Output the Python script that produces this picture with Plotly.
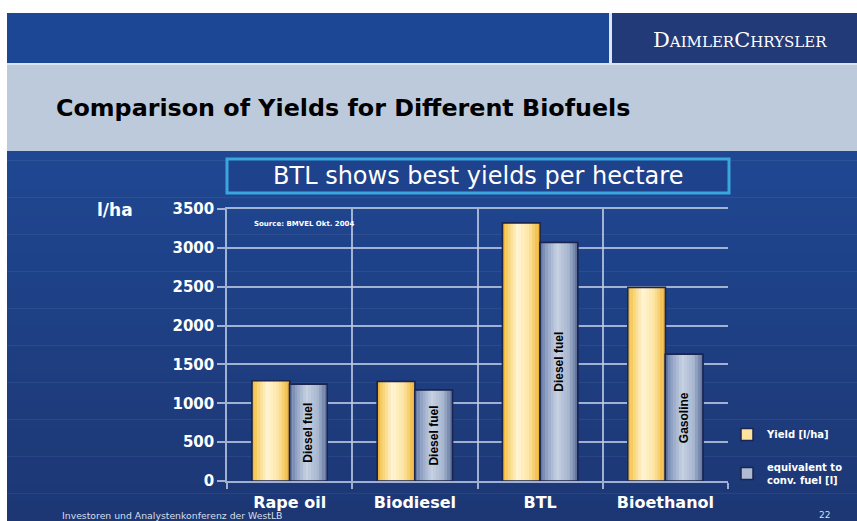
import plotly.graph_objects as go

W, H = 857, 521

categories = ["Rape oil", "Biodiesel", "BTL", "Bioethanol"]
yield_lha = [1290, 1280, 3320, 2490]
equiv_fuel = [1245, 1170, 3070, 1630]
equiv_labels = ["Diesel fuel", "Diesel fuel", "Diesel fuel", "Gasoline"]
y_ticks = [0, 500, 1000, 1500, 2000, 2500, 3000, 3500]

SANS = "DejaVu Sans, Verdana, sans-serif"

def px(x):
    return x / W

def py(y):
    return 1 - y / H

def hex2rgb(h):
    h = h.lstrip("#")
    return tuple(int(h[i:i + 2], 16) for i in (0, 2, 4))

def grad(stops, t):
    for (t0, c0), (t1, c1) in zip(stops, stops[1:]):
        if t0 <= t <= t1:
            f = (t - t0) / (t1 - t0) if t1 > t0 else 0
            a, b = hex2rgb(c0), hex2rgb(c1)
            return "rgb(%d,%d,%d)" % tuple(round(a[i] + (b[i] - a[i]) * f) for i in range(3))
    return stops[-1][1]

yellow_stops = [(0, "#f0b630"), (0.12, "#f7cd62"), (0.4, "#fff5d8"), (0.7, "#fde5a4"), (1.0, "#eeb02c")]
blue_stops = [(0, "#586d9a"), (0.15, "#8a9cc0"), (0.45, "#c8d2e3"), (0.75, "#a8b6cf"), (1.0, "#576c99")]

BW = 0.3
NSTRIP = 14
fig = go.Figure()

def add_series(values, offset, stops, name, mid, texts=None):
    fig.add_trace(go.Bar(x=categories, y=values, offset=offset, width=BW, name=name,
                         marker=dict(color=mid, line=dict(color="#1b2550", width=1.5)),
                         showlegend=True, legendgroup=name, hoverinfo="skip"))
    for i in range(NSTRIP):
        t = (i + 0.5) / NSTRIP
        fig.add_trace(go.Bar(x=categories, y=values, offset=offset + i * BW / NSTRIP,
                             width=BW / NSTRIP * 1.02, marker=dict(color=grad(stops, t), line=dict(width=0)),
                             showlegend=False, legendgroup=name, hoverinfo="skip"))
    fig.add_trace(go.Bar(x=categories, y=values, offset=offset, width=BW,
                         marker=dict(color="rgba(0,0,0,0)", line=dict(color="#1b2550", width=1.5)),
                         text=texts, textposition="inside" if texts else None, insidetextanchor="middle",
                         textangle=-90,
                         textfont=dict(family="Liberation Sans Narrow, Arial Narrow, Arial", size=12,
                                       color="black", weight="bold"),
                         showlegend=False, legendgroup=name, hoverinfo="skip"))

add_series(yield_lha, -BW, yellow_stops, "Yield [l/ha]", "#fde3a0")
add_series(equiv_fuel, 0.0, blue_stops, "equivalent to<br>conv. fuel [l]", "#aebbd3", equiv_labels)

shapes = []
def rect(x0, y0, x1, y1, fill, line=None, lw=0):
    shapes.append(dict(type="rect", xref="paper", yref="paper", x0=px(x0), x1=px(x1), y0=py(y1), y1=py(y0),
                       fillcolor=fill, line=dict(color=line or fill, width=lw), layer="below"))

# header band
rect(7, 13, 857, 63, "#1b4794")
rect(612, 13, 857, 63, "#223a77")
rect(609, 13, 612, 63, "#dfe6f0")
rect(7, 63, 857, 65, "#dbe3ee")
rect(7, 65, 857, 151, "#bdcadb")
# dark gradient area
NB = 40
top, bot = 151, 521
for i in range(NB):
    y0 = top + (bot - top) * i / NB
    y1 = top + (bot - top) * (i + 1) / NB + 0.6
    rect(7, y0, 857, y1, grad([(0, "#1f4792"), (1, "#1d3774")], i / (NB - 1)))
# callout box
shapes.append(dict(type="rect", xref="paper", yref="paper", x0=px(227), x1=px(729), y0=py(193), y1=py(159),
                   fillcolor="#1e428c", line=dict(color="#3aa6de", width=3), layer="below"))

ann = []
def text(x, y, s, size, color="white", bold=False, family=SANS, xanchor="left"):
    ann.append(dict(x=px(x), y=py(y), xref="paper", yref="paper", text=s,
                    showarrow=False, xanchor=xanchor, yanchor="middle",
                    font=dict(family=family, size=size, color=color, weight="bold" if bold else "normal")))

text(54, 108, "Comparison of Yields for Different Biofuels", 23.8, color="black", bold=True)
text(740, 40, "<span style='font-size:21px'>D</span>AIMLER<span style='font-size:21px'>C</span>HRYSLER",
     15, color="white", family="DejaVu Serif, Liberation Serif, serif", xanchor="center")
text(478, 176, "BTL shows best yields per hectare", 24, xanchor="center")
text(95, 210, "l/ha", 17, bold=True)
text(252, 224, "Source: BMVEL Okt. 2004", 7, bold=True)
text(60, 515, "Investoren und Analystenkonferenz der WestLB", 9.3, color="#d6deec")
text(832, 515, "22", 9, color="#d6deec", xanchor="right")

grid = "rgba(195,206,230,0.8)"
fig.update_layout(
    width=W, height=H, margin=dict(l=0, r=0, t=0, b=0),
    paper_bgcolor="white", plot_bgcolor="rgba(0,0,0,0)",
    barmode="overlay", shapes=shapes, annotations=ann,
    font=dict(family=SANS, color="white"),
    xaxis=dict(domain=[px(227), px(728)], range=[-0.5, 3.5], tickson="boundaries",
               showgrid=True, gridcolor=grid, gridwidth=1.5, ticks="outside", ticklen=6, tickcolor=grid,
               tickwidth=1.5, showline=True, linecolor=grid, linewidth=1.5, mirror=True,
               ticklabelstandoff=6,
               tickfont=dict(size=16, color="white", family=SANS, weight="bold"), automargin=False),
    yaxis=dict(domain=[py(481), py(209)], range=[0, 3500], tickvals=y_ticks,
               showgrid=True, gridcolor=grid, gridwidth=1.5, ticks="outside", ticklen=8, tickcolor=grid,
               tickwidth=1.5, showline=True, linecolor=grid, linewidth=1.5, zeroline=False,
               tickfont=dict(size=15, color="white", family=SANS, weight="bold"), automargin=False),
    legend=dict(x=px(727), y=py(420), xanchor="left", yanchor="top", bgcolor="rgba(0,0,0,0)",
                font=dict(size=10, color="white", family=SANS, weight="bold"),
                tracegroupgap=15, traceorder="grouped"),
)

fig.write_html("out.html", config={"displayModeBar": False},
               post_script="document.body.style.margin='0';document.body.style.padding='0';")
